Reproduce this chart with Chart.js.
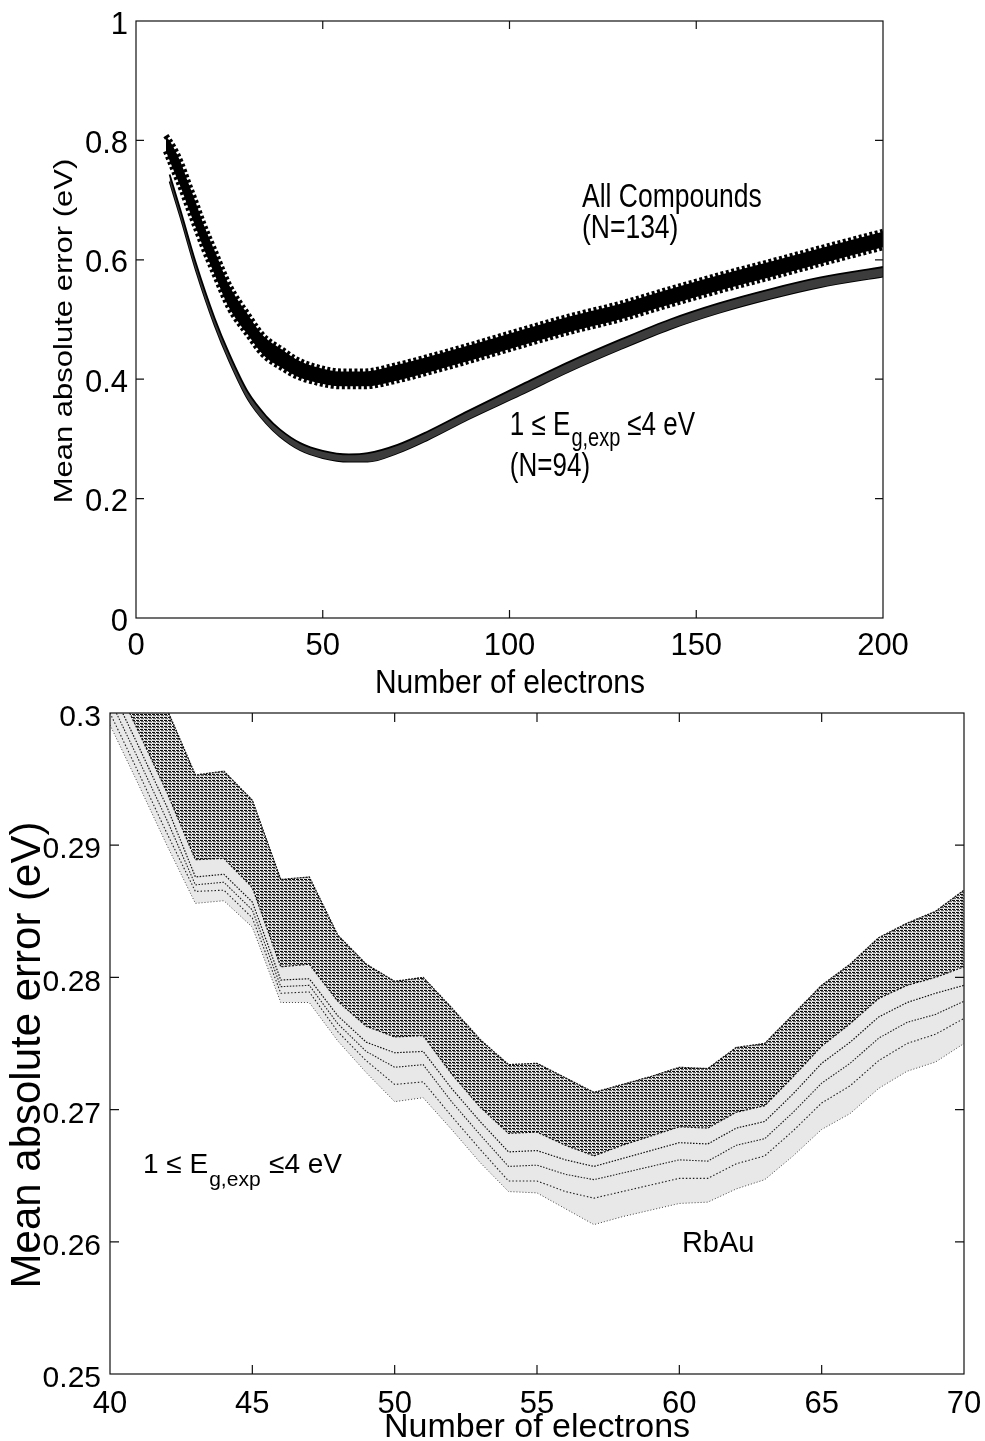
<!DOCTYPE html>
<html>
<head>
<meta charset="utf-8">
<script src="https://cdn.jsdelivr.net/npm/chart.js@4.4.1/dist/chart.umd.min.js"></script>
<style>
  html, body { margin: 0; padding: 0; background: #fff; }
  #wrap { position: relative; width: 985px; height: 1441px; overflow: hidden; background: #fff; }
  #c1 { position: absolute; left: 0; top: 0; width: 985px; height: 700px; }
  #c2 { position: absolute; left: 0; top: 690px; width: 985px; height: 751px; }
</style>
</head>
<body>
<div id="wrap">
  <canvas id="c1" width="985" height="700"></canvas>
  <canvas id="c2" width="985" height="751"></canvas>
</div>
<script>
// ================= DATA : upper panel =================
const topXTicks = [0, 50, 100, 150, 200];
const topXTickLabels = ['0', '50', '100', '150', '200'];
const topYTicks = [0, 0.2, 0.4, 0.6, 0.8, 1];
const topYTickLabels = ['0', '0.2', '0.4', '0.6', '0.8', '1'];

// "All Compounds (N=134)" band: upper and lower envelope
const allCompoundsX     = [8, 10, 12, 14, 16, 18, 21, 25, 30, 34, 39, 43, 48, 55, 61, 70, 78, 90, 103, 116, 130, 143, 156, 170, 183, 200];
const allCompoundsUpper = [0.808, 0.789, 0.763, 0.729, 0.696, 0.661, 0.616, 0.557, 0.508, 0.473, 0.450, 0.433, 0.421, 0.413, 0.413, 0.424, 0.437, 0.458, 0.482, 0.505, 0.527, 0.551, 0.574, 0.597, 0.619, 0.647];
const allCompoundsLower = [0.782, 0.751, 0.721, 0.687, 0.654, 0.621, 0.576, 0.519, 0.474, 0.441, 0.419, 0.405, 0.395, 0.388, 0.388, 0.398, 0.411, 0.432, 0.456, 0.479, 0.501, 0.525, 0.548, 0.571, 0.593, 0.621];

// "1 <= Eg,exp <= 4 eV (N=94)" band: upper and lower envelope
const gapX     = [9, 12, 16, 21, 25, 30, 35, 38.5, 44, 50, 57, 62, 70, 78, 89, 103, 116, 130, 143, 156, 170, 183, 200];
const gapUpper = [0.743, 0.681, 0.595, 0.503, 0.442, 0.378, 0.337, 0.316, 0.293, 0.280, 0.274, 0.276, 0.290, 0.312, 0.347, 0.390, 0.429, 0.467, 0.500, 0.527, 0.551, 0.570, 0.588];
const gapLower = [0.731, 0.669, 0.583, 0.491, 0.430, 0.366, 0.325, 0.304, 0.281, 0.268, 0.262, 0.262, 0.276, 0.298, 0.333, 0.374, 0.413, 0.451, 0.484, 0.511, 0.535, 0.554, 0.572];

// ================= DATA : lower panel =================
const botXTicks = [40, 45, 50, 55, 60, 65, 70];
const botXTickLabels = ['40', '45', '50', '55', '60', '65', '70'];
const botYTicks = [0.25, 0.26, 0.27, 0.28, 0.29, 0.3];
const botYTickLabels = ['0.25', '0.26', '0.27', '0.28', '0.29', '0.3'];

const electrons = [40, 41, 42, 43, 44, 45, 46, 47, 48, 49, 50, 51, 52, 53, 54, 55, 56, 57, 58, 59, 60, 61, 62, 63, 64, 65, 66, 67, 68, 69, 70];
// top edge of the dense bundle of curves
const bundleTop = [0.3060, 0.3030, 0.3003, 0.2953, 0.2956, 0.2934, 0.2874, 0.2876, 0.2832, 0.2810, 0.2797, 0.2800, 0.2777, 0.2753, 0.2734, 0.2735, 0.2724, 0.2713, 0.2719, 0.2725, 0.2732, 0.2731, 0.2747, 0.2750, 0.2772, 0.2794, 0.2810, 0.2830, 0.2841, 0.2850, 0.2866];
// lower edge of the dense bundle
const bundleEdge = [0.3031, 0.2986, 0.2940, 0.2889, 0.2890, 0.2868, 0.2808, 0.2810, 0.2782, 0.2763, 0.2755, 0.2756, 0.2727, 0.2702, 0.2682, 0.2683, 0.2673, 0.2665, 0.2673, 0.2680, 0.2687, 0.2686, 0.2698, 0.2703, 0.2725, 0.2748, 0.2765, 0.2784, 0.2794, 0.2800, 0.2808];
// sparse individual curves below the bundle
const curveA = [0.3020, 0.2975, 0.2929, 0.2876, 0.2878, 0.2857, 0.2798, 0.2799, 0.2771, 0.2751, 0.2743, 0.2744, 0.2716, 0.2691, 0.2668, 0.2669, 0.2662, 0.2657, 0.2663, 0.2669, 0.2675, 0.2674, 0.2686, 0.2691, 0.2712, 0.2735, 0.2751, 0.2770, 0.2781, 0.2788, 0.2794];
const curveB = [0.3010, 0.2965, 0.2919, 0.2870, 0.2872, 0.2851, 0.2793, 0.2794, 0.2765, 0.2744, 0.2732, 0.2734, 0.2706, 0.2681, 0.2657, 0.2658, 0.2651, 0.2647, 0.2652, 0.2657, 0.2662, 0.2661, 0.2673, 0.2678, 0.2698, 0.2720, 0.2735, 0.2754, 0.2766, 0.2772, 0.2782];
const curveC = [0.3000, 0.2955, 0.2909, 0.2865, 0.2866, 0.2845, 0.2788, 0.2789, 0.2759, 0.2737, 0.2719, 0.2721, 0.2695, 0.2670, 0.2646, 0.2646, 0.2638, 0.2633, 0.2638, 0.2643, 0.2648, 0.2648, 0.2659, 0.2665, 0.2684, 0.2705, 0.2718, 0.2737, 0.2750, 0.2757, 0.2769];
const curveLowest = [0.2991, 0.2946, 0.2900, 0.2856, 0.2858, 0.2838, 0.2781, 0.2781, 0.2752, 0.2728, 0.2706, 0.2709, 0.2685, 0.2660, 0.2638, 0.2637, 0.2625, 0.2613, 0.2619, 0.2624, 0.2629, 0.2630, 0.2640, 0.2647, 0.2665, 0.2685, 0.2697, 0.2716, 0.2729, 0.2736, 0.2750];

// ================= rendering =================
const FONT = "'Liberation Sans', Arial, Helvetica, sans-serif";
Chart.defaults.font.family = FONT;
Chart.defaults.color = '#000';
Chart.defaults.animation = false;

function pts(xs, ys) { return xs.map((x, i) => ({ x: x, y: ys[i] })); }

function txt(ctx, s, x, y, size, opt) {
  opt = opt || {};
  ctx.save();
  ctx.translate(x, y);
  if (opt.rot) ctx.rotate(opt.rot);
  ctx.scale(opt.sx || 1, opt.sy || 1);
  ctx.font = size + 'px ' + FONT;
  ctx.textAlign = opt.align || 'left';
  ctx.textBaseline = 'alphabetic';
  ctx.fillStyle = '#000';
  ctx.fillText(s, 0, 0);
  const w = ctx.measureText(s).width * (opt.sx || 1);
  ctx.restore();
  return w;
}

function eqLabel(ctx, x, y, mainSize, subSize, subDrop, gap, sy) {
  let cx = x;
  cx += txt(ctx, '1 \u2264 E', cx, y, mainSize, { sy: sy });
  cx += 1;
  cx += txt(ctx, 'g,exp', cx, y + subDrop, subSize, { sy: sy });
  cx += gap;
  txt(ctx, '\u22644 eV', cx, y, mainSize, { sy: sy });
}

function boxPlugin(o) {
  return {
    id: 'box_' + o.name,
    afterDatasetsDraw(chart) {
      const ctx = chart.ctx, a = chart.chartArea, xs = chart.scales.x, ys = chart.scales.y;
      ctx.save();
      ctx.strokeStyle = '#111';
      ctx.lineWidth = 1.2;
      ctx.strokeRect(a.left, a.top, a.right - a.left, a.bottom - a.top);
      ctx.beginPath();
      o.xTicks.forEach(v => {
        const p = xs.getPixelForValue(v);
        if (p <= a.left + 1 || p >= a.right - 1) return;
        ctx.moveTo(p, a.bottom); ctx.lineTo(p, a.bottom - o.tick);
        ctx.moveTo(p, a.top); ctx.lineTo(p, a.top + o.tick);
      });
      o.yTicks.forEach(v => {
        const p = ys.getPixelForValue(v);
        if (p <= a.top + 1 || p >= a.bottom - 1) return;
        ctx.moveTo(a.left, p); ctx.lineTo(a.left + o.tick, p);
        ctx.moveTo(a.right, p); ctx.lineTo(a.right - o.tick, p);
      });
      ctx.stroke();
      ctx.restore();
      o.draw(chart, ctx, xs, ys, a);
    }
  };
}

function axisX(min, max, ticks, labels, size, pad, h) {
  return {
    type: 'linear', min: min, max: max,
    grid: { display: false, drawTicks: false },
    border: { display: false },
    afterBuildTicks: s => { s.ticks = ticks.map(v => ({ value: v })); },
    ticks: { padding: pad, font: { size: size }, color: '#000', maxRotation: 0, autoSkip: false,
             callback: (v, i) => labels[i] },
    afterFit: s => { s.height = h; s.paddingLeft = 0; s.paddingRight = 0; }
  };
}
function axisY(min, max, ticks, labels, size, pad, w, off) {
  return {
    type: 'linear', min: min, max: max,
    grid: { display: false, drawTicks: false },
    border: { display: false },
    afterBuildTicks: s => { s.ticks = ticks.map(v => ({ value: v })); },
    ticks: { padding: pad, font: { size: size }, color: '#000', autoSkip: false, labelOffset: off,
             callback: (v, i) => labels[i] },
    afterFit: s => { s.width = w; s.paddingTop = 0; s.paddingBottom = 0; }
  };
}

// ---------- upper chart ----------
new Chart(document.getElementById('c1'), {
  type: 'line',
  data: {
    datasets: [
      { label: 'All Compounds upper', data: pts(allCompoundsX, allCompoundsUpper), fill: '+1',
        backgroundColor: '#000', borderColor: '#000', borderWidth: 6, borderDash: [3, 2.5],
        pointRadius: 0, cubicInterpolationMode: 'monotone' },
      { label: 'All Compounds lower', data: pts(allCompoundsX, allCompoundsLower), fill: false,
        borderColor: '#000', borderWidth: 6, borderDash: [3, 2.5],
        pointRadius: 0, cubicInterpolationMode: 'monotone' },
      { label: 'Eg upper', data: pts(gapX, gapUpper), fill: '+1',
        backgroundColor: '#3c3c3c', borderColor: '#000', borderWidth: 1.8,
        pointRadius: 0, cubicInterpolationMode: 'monotone' },
      { label: 'Eg lower', data: pts(gapX, gapLower), fill: false,
        borderColor: '#000', borderWidth: 1.8,
        pointRadius: 0, cubicInterpolationMode: 'monotone' }
    ]
  },
  options: {
    responsive: false, animation: false,
    layout: { padding: { left: 0, top: 21, right: 102, bottom: 0 } },
    plugins: { legend: { display: false }, tooltip: { enabled: false } },
    scales: {
      x: axisX(0, 200, topXTicks, topXTickLabels, 31, 10, 82),
      y: axisY(0, 1, topYTicks, topYTickLabels, 31, 8, 136, 4)
    }
  },
  plugins: [boxPlugin({
    name: 'top', xTicks: topXTicks, yTicks: topYTicks, tick: 8,
    draw: (chart, ctx, xs, ys, a) => {
      const sy = 1.25;
      txt(ctx, 'All Compounds', xs.getPixelForValue(119.4), ys.getPixelForValue(0.688), 26.5, { sy: sy });
      txt(ctx, '(N=134)', xs.getPixelForValue(119.4), ys.getPixelForValue(0.6365), 26.5, { sy: sy });
      eqLabel(ctx, xs.getPixelForValue(100.1), ys.getPixelForValue(0.3065), 26, 20, 11, 7, sy);
      txt(ctx, '(N=94)', xs.getPixelForValue(100.1), ys.getPixelForValue(0.2379), 26, { sy: sy });
      // axis titles
      txt(ctx, 'Number of electrons', 510, 693, 30, { align: 'center', sy: 1.12 });
      txt(ctx, 'Mean absolute error (eV)', 72, 331, 26.5, { align: 'center', rot: -Math.PI / 2, sx: 1.17 });
    }
  })]
});

// ---------- lower chart ----------
const c2 = document.getElementById('c2');
const ctx2 = c2.getContext('2d');
function makeBundlePattern(ctx) {
  const t = document.createElement('canvas');
  t.width = 4; t.height = 3;
  const g = t.getContext('2d');
  g.fillStyle = 'rgba(0,0,0,0.95)'; g.fillRect(0, 0, 3, 1);
  g.fillStyle = 'rgba(0,0,0,0.6)';  g.fillRect(1, 1, 3, 1);
  g.fillStyle = 'rgba(0,0,0,0.15)'; g.fillRect(0, 2, 4, 1);
  return ctx.createPattern(t, 'repeat');
}
const bundlePattern = makeBundlePattern(ctx2);

new Chart(c2, {
  type: 'line',
  data: {
    datasets: [
      { label: 'bundle top', data: pts(electrons, bundleTop), fill: '+1', backgroundColor: bundlePattern,
        borderColor: '#111', borderWidth: 1.3, borderDash: [2, 1], pointRadius: 0, tension: 0 },
      { label: 'bundle edge', data: pts(electrons, bundleEdge), fill: 5, backgroundColor: 'rgba(0,0,0,0.09)',
        borderColor: '#111', borderWidth: 1.2, borderDash: [2, 1.5], pointRadius: 0, tension: 0 },
      { label: 'curve A', data: pts(electrons, curveA), fill: false,
        borderColor: '#111', borderWidth: 1.2, borderDash: [1.5, 1.5], pointRadius: 0, tension: 0 },
      { label: 'curve B', data: pts(electrons, curveB), fill: false,
        borderColor: '#222', borderWidth: 1.1, borderDash: [1.5, 1.5], pointRadius: 0, tension: 0 },
      { label: 'curve C', data: pts(electrons, curveC), fill: false,
        borderColor: '#222', borderWidth: 1.1, borderDash: [1.5, 2], pointRadius: 0, tension: 0 },
      { label: 'RbAu', data: pts(electrons, curveLowest), fill: false,
        borderColor: '#444', borderWidth: 1, borderDash: [1, 2], pointRadius: 0, tension: 0 }
    ]
  },
  options: {
    responsive: false, animation: false,
    layout: { padding: { left: 0, top: 23, right: 21, bottom: 0 } },
    plugins: { legend: { display: false }, tooltip: { enabled: false } },
    scales: {
      x: axisX(40, 70, botXTicks, botXTickLabels, 31, 12, 67),
      y: axisY(0.25, 0.3, botYTicks, botYTickLabels, 30, 9, 110, 5)
    }
  },
  plugins: [boxPlugin({
    name: 'bot', xTicks: botXTicks, yTicks: botYTicks, tick: 9,
    draw: (chart, ctx, xs, ys, a) => {
      eqLabel(ctx, xs.getPixelForValue(41.16), ys.getPixelForValue(0.2652), 28, 21, 13, 8.5, 1);
      txt(ctx, 'RbAu', xs.getPixelForValue(60.09), ys.getPixelForValue(0.2592), 29);
      txt(ctx, 'Number of electrons', 537, 747, 34, { align: 'center' });
      txt(ctx, 'Mean absolute error (eV)', 40, 365, 42, { align: 'center', rot: -Math.PI / 2 });
    }
  })]
});
</script>
</body>
</html>
